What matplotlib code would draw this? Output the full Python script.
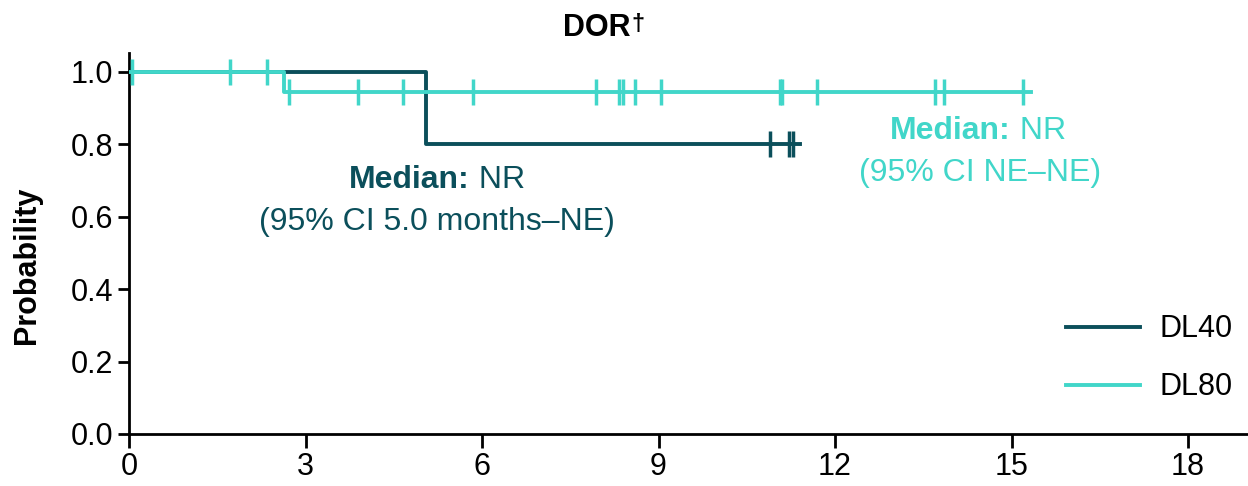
import numpy as np
import matplotlib
matplotlib.use("Agg")
import matplotlib.pyplot as plt
from matplotlib.offsetbox import TextArea, HPacker, AnnotationBbox

plt.rcParams["font.family"] = ["Liberation Sans", "DejaVu Sans"]

col_40 = "#0b4f5b"
col_80 = "#41d6c9"

# KM step data (time in months, survival probability)
dl40_times = [0, 5.04, 11.4]
dl40_surv = [1.0, 0.8, 0.8]
dl40_cens_t = [10.9, 11.21, 11.29]
dl40_cens_s = [0.8, 0.8, 0.8]

dl80_times = [0, 2.63, 15.33]
dl80_surv = [1.0, 0.944, 0.944]
dl80_cens_t = [0.05, 1.72, 2.34, 2.72, 3.89, 4.65, 5.84, 7.93, 8.32, 8.39,
               8.60, 9.04, 11.07, 11.10, 11.69, 13.70, 13.85, 15.19]
dl80_cens_s = [1.0, 1.0, 1.0] + [0.944] * 15

xticks = [0, 3, 6, 9, 12, 15, 18]
yticks = [0.0, 0.2, 0.4, 0.6, 0.8, 1.0]

fs = 22
fs_note = 23

fig = plt.figure(figsize=(12.48, 4.86), dpi=100)
ax = fig.add_axes([0.1034, 0.107, 0.8966, 0.784])

ax.step(dl40_times, dl40_surv, where="post", color=col_40, lw=2.8, label="DL40", zorder=3)
ax.plot(dl40_cens_t, dl40_cens_s, ls="none", marker="|", ms=19, mew=2.5, color=col_40, zorder=3)
ax.step(dl80_times, dl80_surv, where="post", color=col_80, lw=2.8, label="DL80", zorder=4)
ax.plot(dl80_cens_t, dl80_cens_s, ls="none", marker="|", ms=19, mew=2.5, color=col_80, zorder=4)

ax.set_xlim(0, 19.02)
ax.set_ylim(0, 1.052)
ax.set_xticks(xticks)
ax.set_yticks(yticks)
ax.set_yticklabels([f"{v:.1f}" for v in yticks])
ax.tick_params(labelsize=fs, width=2, length=8, color="black")
ax.tick_params(axis="x", length=10, pad=3)
for s in ["top", "right"]:
    ax.spines[s].set_visible(False)
for s in ["left", "bottom"]:
    ax.spines[s].set_linewidth(2)
ax.set_ylabel("Probability", fontsize=fs, fontweight="bold")
ax.yaxis.set_label_coords(-0.078, 0.444)

# title with small superscript dagger
t1 = TextArea("DOR", textprops=dict(fontsize=fs, fontweight="bold"))
t2 = TextArea("\u2020", textprops=dict(fontsize=17, fontweight="bold"))
tbox = HPacker(children=[t1, t2], pad=0, sep=1, align="top")
fig.add_artist(AnnotationBbox(tbox, (0.484, 0.942), xycoords="figure fraction",
                              box_alignment=(0.5, 0.5), frameon=False))


def median_label(x, y, color):
    b = TextArea("Median:", textprops=dict(fontsize=fs_note, fontweight="bold", color=color))
    r = TextArea(" NR", textprops=dict(fontsize=fs_note, color=color))
    box = HPacker(children=[b, r], pad=0, sep=0, align="baseline")
    ab = AnnotationBbox(box, (x, y), xycoords="data", box_alignment=(0.5, 0.5), frameon=False)
    ax.add_artist(ab)


median_label(5.23, 0.702, col_40)
ax.text(5.24, 0.586, "(95% CI 5.0 months\u2013NE)", fontsize=fs_note, color=col_40, ha="center", va="center")
median_label(14.43, 0.837, col_80)
ax.text(14.46, 0.721, "(95% CI NE\u2013NE)", fontsize=fs_note, color=col_80, ha="center", va="center")

ax.legend(loc="lower right", bbox_to_anchor=(1.0, 0.043), frameon=False, fontsize=fs,
          handlelength=2.4, handletextpad=0.65, labelspacing=0.92, borderaxespad=0.1)

fig.savefig("out.png", dpi=100)
